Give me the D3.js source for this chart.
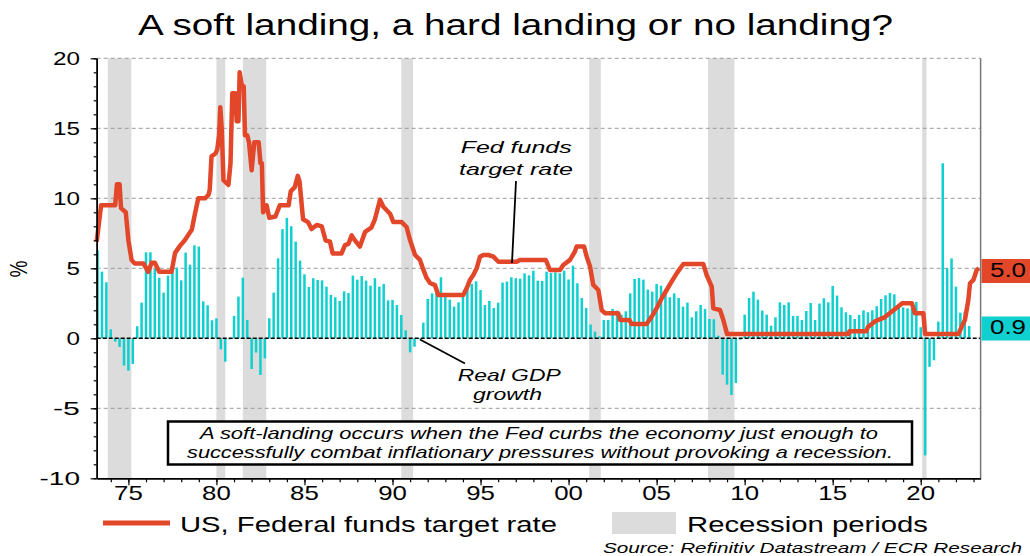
<!DOCTYPE html>
<html lang="en">
<head>
<meta charset="UTF-8">
<title>A soft landing, a hard landing or no landing?</title>
<script src="https://cdn.jsdelivr.net/npm/d3@7"></script>
<style>
  html, body { margin: 0; padding: 0; background: #fff; }
  svg { display: block; font-family: "Liberation Sans", Arial, sans-serif; }
</style>
</head>
<body>
<svg id="chart" width="1030" height="556"></svg>
<script>
// ---- data ----
// US real GDP growth, y/y %, quarterly from 1973 Q2 to 2022 Q4
const gdpStart = 1973.25;
const gdpGrowth = [
  6.3, 4.76, 4.0,
  0.64, -0.24, -0.62, -1.95,
  -2.31, -1.83, 0.86, 2.55,
  6.14, 6.14, 4.95, 4.33,
  3.26, 4.48, 5.05, 5.05,
  4.14, 6.12, 5.26, 6.64,
  6.55, 2.64, 2.36, 1.29,
  1.43, -0.79, -1.67, -0.07,
  1.6, 2.98, 4.33, 1.31,
  -2.19, -1.02, -2.62, -1.43,
  1.43, 3.26, 5.71, 7.8,
  8.6, 8.0, 6.9, 5.55,
  4.57, 3.67, 4.29, 4.17,
  4.14, 3.69, 3.1, 2.93,
  2.67, 3.35, 3.23, 4.48,
  4.19, 4.45, 4.12, 3.76,
  4.29, 3.69, 3.88, 2.71,
  2.74, 2.38, 1.67, 0.57,
  -1.0, -0.6, -0.07, 1.12,
  2.81, 3.21, 3.45, 4.36,
  3.21, 2.76, 2.26, 2.57,
  3.12, 3.71, 3.88, 4.07,
  3.45, 2.38, 2.67, 2.17,
  2.55, 3.98, 4.05, 4.36,
  4.29, 4.26, 4.64, 4.5,
  4.83, 4.12, 4.1, 4.76,
  4.67, 4.71, 4.65, 4.83,
  4.2, 5.19, 3.93, 2.88,
  2.17, 0.98, 0.48, 0.14,
  1.31, 1.31, 2.1, 1.98,
  1.69, 1.93, 3.21, 4.24,
  4.31, 4.19, 3.48, 3.33,
  3.88, 3.76, 3.29, 2.93,
  3.21, 2.88, 2.26, 2.55,
  1.5, 1.93, 2.38, 2.1,
  1.38, 1.36, 0.19, -2.6,
  -3.31, -4.05, -3.19, -0.1,
  1.69, 2.88, 3.33, 2.76,
  1.98, 1.69, 0.9, 1.5,
  2.57, 2.38, 2.57, 1.6,
  1.6, 1.31, 1.95, 2.52,
  1.31, 2.48, 2.86, 2.57,
  3.74, 3.05, 2.21, 1.86,
  1.67, 1.38, 1.67, 2.0,
  1.86, 2.0, 2.29, 2.81,
  3.07, 3.24, 3.14, 2.26,
  2.21, 2.14, 2.14, 2.6,
  0.79, -8.36, -2.04, -1.57,
  1.19, 12.5, 5.0, 5.71,
  3.69, 1.83, 1.9, 0.88
];

// US Federal funds target rate, % (date as decimal year)
const fedDates = [
  1973.2, 1973.45, 1974.25, 1974.35, 1974.5, 1974.58, 1974.85, 1975.0, 1975.18, 1975.35,
  1975.85, 1976.13, 1976.32, 1976.5, 1976.75, 1977.45, 1977.65, 1977.93, 1978.2, 1978.6,
  1978.78, 1978.97, 1979.35, 1979.55, 1979.62, 1979.72, 1979.95, 1980.05, 1980.15, 1980.22,
  1980.3, 1980.4, 1980.68, 1980.8, 1980.9, 1981.07, 1981.15, 1981.25, 1981.32, 1981.45,
  1981.55, 1981.62, 1981.75, 1981.85, 1982.0, 1982.15, 1982.4, 1982.5, 1982.58, 1982.65,
  1982.85, 1983.0, 1983.35, 1983.6, 1984.1, 1984.22, 1984.45, 1984.62, 1984.72, 1984.92,
  1985.2, 1985.4, 1985.7, 1985.98, 1986.2, 1986.45, 1986.6, 1987.1, 1987.3, 1987.5,
  1987.68, 1987.8, 1988.15, 1988.44, 1988.8, 1989.0, 1989.29, 1989.48, 1989.86, 1990.05,
  1990.52, 1990.8, 1991.0, 1991.28, 1991.56, 1991.75, 1991.94, 1992.13, 1992.41, 1992.6,
  1994.02, 1994.21, 1994.4, 1994.59, 1994.78, 1994.97, 1995.16, 1995.45, 1995.73, 1996.01,
  1997.05, 1997.24, 1998.7, 1998.75, 1998.94, 1999.51, 1999.7, 2000.08, 2000.36, 2000.46,
  2000.88, 2001.03, 2001.22, 2001.4, 2001.69, 2001.88, 2002.07, 2002.82, 2002.92, 2003.45,
  2003.58, 2004.43, 2004.72, 2005.0, 2005.29, 2005.57, 2005.85, 2006.14, 2006.52, 2007.65,
  2007.84, 2008.13, 2008.22, 2008.6, 2008.79, 2009.0, 2015.9, 2015.95, 2016.9, 2017.0,
  2017.2, 2017.45, 2017.95, 2018.2, 2018.45, 2018.7, 2018.95, 2019.5, 2019.67, 2020.15,
  2020.25, 2022.14, 2022.33, 2022.51, 2022.7, 2022.8, 2022.99, 2023.18, 2023.31
];
const fedRate = [
  6.9, 9.5, 9.5, 11.0, 11.0, 9.3, 9.0, 7.0, 5.6, 5.35,
  5.35, 4.75, 5.4, 5.4, 4.75, 4.75, 6.1, 6.6, 7.0, 7.75,
  8.9, 10.0, 10.0, 10.25, 10.6, 13.0, 13.2, 13.5, 14.5, 16.5,
  15.0, 11.3, 10.95, 12.5, 17.5, 17.5, 15.5, 15.5, 19.0, 18.0,
  18.0, 14.5, 14.5, 14.0, 12.0, 14.0, 14.0, 12.5, 12.5, 9.0,
  9.5, 8.6, 8.7, 9.5, 9.5, 10.5, 10.8, 11.6, 11.2, 8.5,
  8.3, 7.8, 8.1, 8.0, 7.0, 6.9, 6.05, 6.05, 6.65, 6.75,
  7.35, 7.1, 6.55, 7.6, 7.9, 8.5, 9.9, 9.4, 8.9, 8.3,
  8.3, 7.95, 7.0, 5.95, 5.6, 4.9, 4.3, 3.95, 3.8, 3.1,
  3.1, 3.57, 4.17, 4.52, 5.0, 5.83, 5.95, 5.95, 5.83, 5.47,
  5.47, 5.6, 5.6, 5.47, 4.88, 4.88, 5.24, 5.6, 6.2, 6.55,
  6.55, 5.83, 5.12, 3.81, 3.45, 2.02, 1.79, 1.79, 1.31, 1.31,
  1.02, 1.02, 1.55, 2.14, 2.86, 3.45, 4.05, 4.64, 5.31, 5.31,
  4.52, 3.69, 2.14, 2.02, 1.31, 0.3, 0.3, 0.5, 0.5, 0.8,
  1.0, 1.25, 1.5, 1.75, 2.0, 2.25, 2.5, 2.5, 1.79, 1.79,
  0.3, 0.3, 0.83, 1.31, 2.7, 3.93, 4.17, 4.88, 5.0
];

// NBER recession periods [start, end]
const recessionStart = [1973.83, 1980.0, 1981.5, 1990.5, 2001.17, 2007.92, 2020.08];
const recessionEnd   = [1975.17, 1980.5, 1982.83, 1991.17, 2001.83, 2009.42, 2020.33];

const yTicks = [-10, -5, 0, 5, 10, 15, 20];
const xLabelYears = [1975, 1980, 1985, 1990, 1995, 2000, 2005, 2010, 2015, 2020];
const lastRate = "5.0";
const lastGdp = "0.9";

// ---- drawing ----
const red = "#e2472a";
const cyan = "#0fcfcf";
const svg = d3.select("#chart");

const x = d3.scaleLinear().domain([1973.2, 2023.4]).range([96.7, 980.6]);
const y = d3.scaleLinear().domain([-10, 20]).range([478.3, 58.3]);

// text that is stretched sideways like the original
function txt(g, s, px, py, size, opts) {
  opts = opts || {};
  const t = g.append("text")
    .attr("x", px).attr("y", py)
    .attr("font-size", size)
    .attr("fill", opts.fill || "#000")
    .attr("text-anchor", opts.anchor || "start")
    .text(s);
  if (opts.italic) t.attr("font-style", "italic");
  if (opts.len) t.attr("textLength", opts.len).attr("lengthAdjust", "spacingAndGlyphs");
  return t;
}

// recession bands
svg.append("g").selectAll("rect")
  .data(recessionStart)
  .enter().append("rect")
  .attr("x", d => x(d))
  .attr("width", (d, i) => x(recessionEnd[i]) - x(d))
  .attr("y", y(20))
  .attr("height", y(-10) - y(20))
  .attr("fill", "#dcdcdc");

// grid
svg.append("g").selectAll("line")
  .data(yTicks.filter(v => v !== 0 && v !== -10))
  .enter().append("line")
  .attr("x1", x.range()[0]).attr("x2", x.range()[1])
  .attr("y1", d => y(d)).attr("y2", d => y(d))
  .attr("stroke", "#9a9a9a").attr("stroke-width", 1)
  .attr("stroke-dasharray", "4,3");

// GDP bars
const quarters = gdpGrowth.map((v, i) => ({ t: gdpStart + i / 4, v: v }));
svg.append("g").selectAll("rect")
  .data(quarters)
  .enter().append("rect")
  .attr("x", d => x(d.t) - 1.25)
  .attr("width", 2.5)
  .attr("y", d => y(Math.max(0, d.v)))
  .attr("height", d => Math.abs(y(d.v) - y(0)))
  .attr("fill", cyan);

// zero line
svg.append("line")
  .attr("x1", x.range()[0]).attr("x2", x.range()[1])
  .attr("y1", y(0)).attr("y2", y(0))
  .attr("stroke", "#000").attr("stroke-width", 1.5)
  .attr("stroke-dasharray", "4,2");

// fed funds line
const fed = fedDates.map((d, i) => [d, fedRate[i]]);
svg.append("path")
  .datum(fed)
  .attr("fill", "none")
  .attr("stroke", red)
  .attr("stroke-width", 4.5)
  .attr("stroke-linejoin", "round")
  .attr("d", d3.line().x(d => x(d[0])).y(d => y(d[1])));

// axes
const yMinor = d3.axisLeft(y).tickValues(d3.range(-10, 21, 1)).tickSize(3).tickFormat("").tickSizeOuter(0);
const yMajor = d3.axisLeft(y).tickValues(yTicks).tickSize(6).tickFormat("").tickSizeOuter(0);
const gy1 = svg.append("g").attr("transform", `translate(${x.range()[0]},0)`).call(yMinor);
const gy2 = svg.append("g").attr("transform", `translate(${x.range()[0]},0)`).call(yMajor);
[gy1, gy2].forEach(g => {
  g.selectAll("line").attr("stroke", "#000").attr("stroke-width", 1.2);
  g.select(".domain").attr("stroke", "#000").attr("stroke-width", 1.5);
});

const xMinor = d3.axisBottom(x).tickValues(d3.range(1974, 2024)).tickSize(4).tickFormat("").tickSizeOuter(0);
const xMajor = d3.axisBottom(x).tickValues(xLabelYears).tickSize(7).tickFormat("").tickSizeOuter(0);
const gx1 = svg.append("g").attr("transform", `translate(0,${y(-10)})`).call(xMinor);
const gx2 = svg.append("g").attr("transform", `translate(0,${y(-10)})`).call(xMajor);
[gx1, gx2].forEach(g => {
  g.selectAll("line").attr("stroke", "#000").attr("stroke-width", 1.2);
  g.select(".domain").attr("stroke", "#000").attr("stroke-width", 1.5);
});

// right frame
svg.append("line")
  .attr("x1", x.range()[1]).attr("x2", x.range()[1])
  .attr("y1", y(20)).attr("y2", y(-10))
  .attr("stroke", "#777").attr("stroke-width", 1.5);

// tick labels
const labels = svg.append("g");
yTicks.forEach(v => {
  const s = String(v);
  txt(labels, s, 80, y(v) + 6.5, 18, { anchor: "end", len: 13.5 * s.length });
});
xLabelYears.forEach(yr => {
  const s = String(yr).slice(2);
  txt(labels, s, x(yr), 500, 21, { anchor: "middle", len: 28.7 });
});
txt(labels, "%", 0, 0, 24, { len: 17 }).attr("transform", "translate(27,269) rotate(-90)").attr("text-anchor", "middle");

// title
txt(svg, "A soft landing, a hard landing or no landing?", 515.5, 35, 29, { anchor: "middle", len: 755 });

// end-value badges
svg.append("rect").attr("x", 981.5).attr("y", 259).attr("width", 48.5).attr("height", 24).attr("fill", red);
txt(svg, lastRate, 1008, 277, 19.5, { anchor: "middle", len: 36 });
svg.append("rect").attr("x", 981.5).attr("y", 316.5).attr("width", 48.5).attr("height", 24).attr("fill", cyan);
txt(svg, lastGdp, 1008, 334, 19.5, { anchor: "middle", len: 36 });

// annotations
txt(svg, "Fed funds", 460.7, 153, 17, { italic: true, len: 111 });
txt(svg, "target rate", 459, 175, 17, { italic: true, len: 114 });
svg.append("line").attr("x1", 516).attr("y1", 181).attr("x2", 512).attr("y2", 263)
  .attr("stroke", "#000").attr("stroke-width", 1.8);

txt(svg, "Real GDP", 457.7, 381, 17, { italic: true, len: 103 });
txt(svg, "growth", 473, 400, 17, { italic: true, len: 69 });
svg.append("line").attr("x1", 420).attr("y1", 339.5).attr("x2", 465).attr("y2", 363.5)
  .attr("stroke", "#000").attr("stroke-width", 1.8);

// note box
svg.append("rect").attr("x", 168).attr("y", 421.5).attr("width", 744).attr("height", 43)
  .attr("fill", "#fff").attr("stroke", "#000").attr("stroke-width", 2.5);
txt(svg, "A soft-landing occurs when the Fed curbs the economy just enough to", 539, 439, 17, { anchor: "middle", italic: true, len: 678 });
txt(svg, "successfully combat inflationary pressures without provoking a recession.", 540, 458, 17, { anchor: "middle", italic: true, len: 706 });

// legend
svg.append("line").attr("x1", 103).attr("x2", 170).attr("y1", 523).attr("y2", 523)
  .attr("stroke", red).attr("stroke-width", 5);
txt(svg, "US, Federal funds target rate", 180, 532, 22, { len: 377 });
svg.append("rect").attr("x", 612).attr("y", 512).attr("width", 64).attr("height", 22).attr("fill", "#dcdcdc");
txt(svg, "Recession periods", 687, 532, 22, { len: 241 });

// source
txt(svg, "Source: Refinitiv Datastream / ECR Research", 1022, 553, 15, { anchor: "end", italic: true, len: 419 });
</script>
</body>
</html>
